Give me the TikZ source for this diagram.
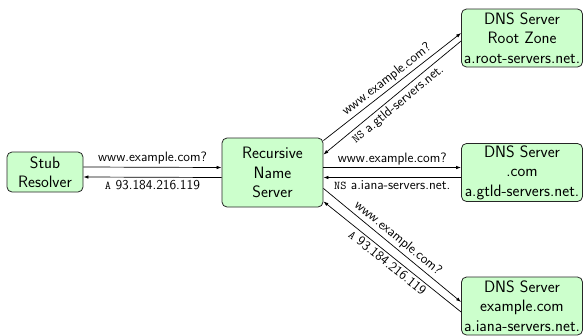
\documentclass[tikz,border=0pt]{standalone}
\usetikzlibrary{arrows.meta}
\definecolor{boxfill}{RGB}{204,255,204}
\newcommand{\boxfont}{\sffamily\fontsize{16.5}{19.5}\selectfont}
\newcommand{\lblfont}{\sffamily\fontsize{13.6}{15}\selectfont}
\newcommand{\rr}[1]{{\ttfamily\fontsize{11.9}{14}\selectfont #1}}
\begin{document}
\begin{tikzpicture}[x=1pt,y=-1pt,
  server/.style={draw=black!85, fill=boxfill, rounded corners=5pt, line width=0.8pt,
    align=center, font=\boxfont, inner sep=1pt},
  dnsbox/.style={server, minimum width=121pt, minimum height=58pt},
  msg/.style={-{Latex[length=5pt,width=3.5pt]}, line width=0.7pt},
  lbl/.style={font=\lblfont, sloped, midway, inner sep=2.5pt}]
\useasboundingbox (0,0) rectangle (584,335);

% hosts
\node[server, minimum width=76pt, minimum height=40pt] (stub) at (45,172) {Stub\\Resolver};
\node[server, minimum width=101pt, minimum height=69pt] (rec) at (272.5,172.5) {Recursive\\Name\\Server};
\node[dnsbox] (root) at (522,38) {DNS Server\\Root Zone\\a.root-servers.net.};
\node[dnsbox] (com) at (522,172.5) {DNS Server\\.com\\a.gtld-servers.net.};
\node[dnsbox] (ex) at (522,306) {DNS Server\\example.com\\a.iana-servers.net.};

% stub resolver <-> recursive server
\draw[msg] ([yshift=5pt]stub.east) -- node[lbl, above] {www.example.com?} ([yshift=5pt]rec.west);
\draw[msg] ([yshift=-5pt]rec.west) -- node[lbl, below] {\rr{A} 93.184.216.119} ([yshift=-5pt]stub.east);

% recursive server <-> root zone
\draw[msg] ([yshift=-3pt]rec.north east) -- node[lbl, above] {www.example.com?} ([yshift=5pt]root.west);
\draw[msg] ([yshift=-3pt]root.west) -- node[lbl, below] {\rr{NS} a.gtld-servers.net.} ([yshift=-17pt]rec.north east);

% recursive server <-> .com
\draw[msg] ([yshift=5pt]rec.east) -- node[lbl, above] {www.example.com?} ([yshift=5pt]com.west);
\draw[msg] ([yshift=-5pt]com.west) -- node[lbl, below] {\rr{NS} a.iana-servers.net.} ([yshift=-5pt]rec.east);

% recursive server <-> example.com
\draw[msg] ([yshift=19pt]rec.south east) -- node[lbl, above] {www.example.com?} ([yshift=4pt]ex.west);
\draw[msg] ([yshift=-6pt]ex.west) -- node[lbl, below] {\rr{A} 93.184.216.119} ([yshift=6pt]rec.south east);
\end{tikzpicture}
\end{document}
